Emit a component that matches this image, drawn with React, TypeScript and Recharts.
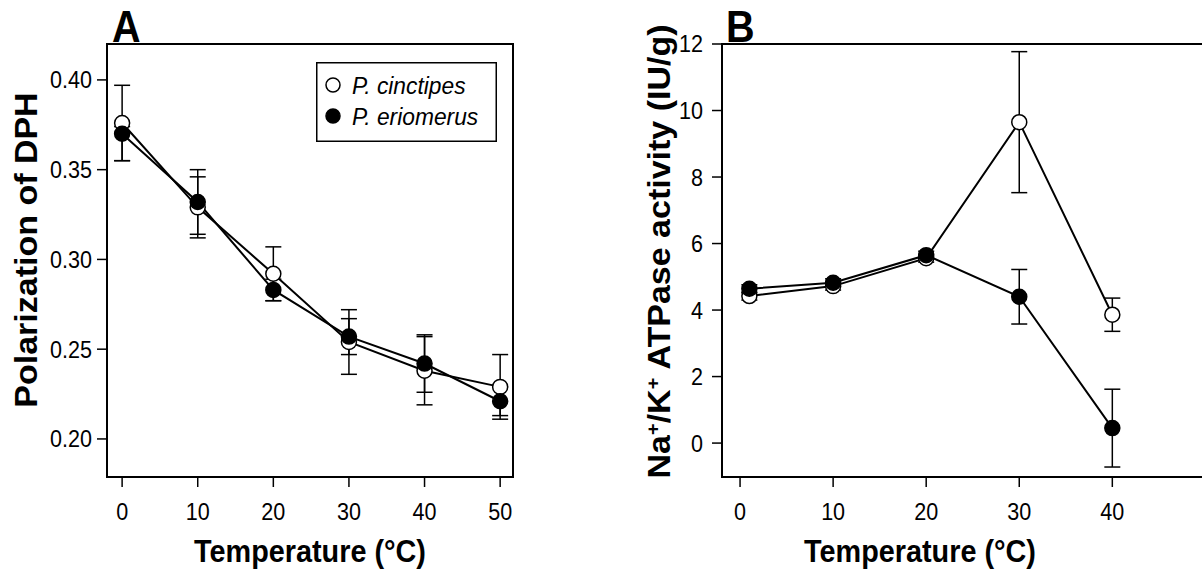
import React from "react";
import {
  LineChart,
  Line,
  XAxis,
  YAxis,
  ErrorBar,
  ReferenceArea,
  Legend,
  Label,
} from "recharts";

// Panel A: DPH polarization (errors are [below, above])
const tempA = [0, 10, 20, 30, 40, 50];
const cinctipesA = [0.376, 0.329, 0.292, 0.254, 0.238, 0.229];
const cinctipesAErr: [number, number][] = [
  [0.021, 0.021], [0.017, 0.017], [0.015, 0.015], [0.018, 0.018], [0.019, 0.019], [0.018, 0.018],
];
const eriomerusA = [0.37, 0.332, 0.283, 0.257, 0.242, 0.221];
const eriomerusAErr: [number, number][] = [
  [0.015, 0.004], [0.018, 0.018], [0.006, 0.006], [0.01, 0.01], [0.016, 0.016], [0.008, 0.008],
];
const xTicksA = [0, 10, 20, 30, 40, 50];
const yTicksA = [0.2, 0.25, 0.3, 0.35, 0.4];

// Panel B: Na+/K+ ATPase activity
const tempB = [1, 10, 20, 30, 40];
const cinctipesB = [4.42, 4.72, 5.56, 9.65, 3.86];
const cinctipesBErr: [number, number][] = [
  [0.12, 0.12], [0.12, 0.12], [0.12, 0.12], [2.12, 2.12], [0.5, 0.5],
];
const eriomerusB = [4.64, 4.82, 5.65, 4.4, 0.45];
const eriomerusBErr: [number, number][] = [
  [0.12, 0.12], [0.12, 0.12], [0.12, 0.12], [0.82, 0.82], [1.17, 1.17],
];
const xTicksB = [0, 10, 20, 30, 40];
const yTicksB = [0, 2, 4, 6, 8, 10, 12];

const xDomainA: [number, number] = [-2, 51.7];
const yDomainA: [number, number] = [0.1788, 0.42];
const xDomainB: [number, number] = [-1.94, 52];
const yDomainB: [number, number] = [-1.02, 12];

const seriesStyles = [
  { key: "cin", name: "P. cinctipes", fill: "#fff" },
  { key: "eri", name: "P. eriomerus", fill: "#000" },
];

const dataA = tempA.map((t, i) => ({
  t,
  cin: cinctipesA[i],
  cinErr: cinctipesAErr[i],
  eri: eriomerusA[i],
  eriErr: eriomerusAErr[i],
}));

const dataB = tempB.map((t, i) => ({
  t,
  cin: cinctipesB[i],
  cinErr: cinctipesBErr[i],
  eri: eriomerusB[i],
  eriErr: eriomerusBErr[i],
}));

const FONT = "'Liberation Sans', Arial, Helvetica, sans-serif";
const SQ = 0.88;

const makeXTick = (fmt: (v: number) => string) => (props: any) => {
  const { x, y, payload } = props;
  return (
    <text
      transform={`translate(${x},${y}) scale(${SQ},1)`}
      textAnchor="middle"
      dy="0.72em"
      fontSize={24.5}
      fontFamily={FONT}
      fill="#000"
    >
      {fmt(payload.value)}
    </text>
  );
};

const makeYTick = (fmt: (v: number) => string) => (props: any) => {
  const { x, y, payload } = props;
  return (
    <text
      transform={`translate(${x},${y}) scale(${SQ},1)`}
      textAnchor="end"
      dominantBaseline="central"
      fontSize={24.5}
      fontFamily={FONT}
      fill="#000"
    >
      {fmt(payload.value)}
    </text>
  );
};

const xTitle = (cx: number) => () => (
  <text
    transform={`translate(${cx},562) scale(0.9,1)`}
    textAnchor="middle"
    fontSize={32}
    fontWeight="bold"
    fontFamily={FONT}
    fill="#000"
  >
    Temperature (°C)
  </text>
);

const panelLetter = (letter: string, x: number) => () => (
  <text
    transform={`translate(${x},42) scale(0.9,1)`}
    fontSize={44}
    fontWeight="bold"
    fontFamily={FONT}
    fill="#000"
  >
    {letter}
  </text>
);

const renderLegend = (props: any) => {
  const payload = props.payload || [];
  return (
    <svg width={181} height={80} style={{ display: "block" }}>
      <rect x={0.75} y={0.75} width={179.5} height={78.5} fill="#fff" stroke="#000" strokeWidth={1.5} />
      {seriesStyles.map((s, i) => {
        const entry = payload.find((p: any) => p.value === s.name);
        const cy = i === 0 ? 23 : 54;
        return (
          <g key={s.key}>
            <circle cx={17} cy={cy} r={7} fill={s.fill} stroke="#000" strokeWidth={1.5} />
            <text
              transform={`translate(36,${cy + 8.5}) scale(0.95,1)`}
              fontSize={24}
              fontStyle="italic"
              fontFamily={FONT}
              fill="#000"
            >
              {entry ? entry.value : s.name}
            </text>
          </g>
        );
      })}
    </svg>
  );
};

const tickLine = { stroke: "#000", strokeWidth: 1.5 };

const seriesLines = (suffix: string) =>
  seriesStyles.map((s) => (
    <Line
      key={s.key + suffix}
      type="linear"
      dataKey={s.key}
      name={s.name}
      stroke="#000"
      strokeWidth={2}
      dot={{ r: 7.5, fill: s.fill, stroke: "#000", strokeWidth: 1.5 }}
      activeDot={false}
      isAnimationActive={false}
    >
      <ErrorBar
        dataKey={s.key + "Err"}
        direction="y"
        width={8}
        stroke="#000"
        strokeWidth={1.5}
        isAnimationActive={false}
      />
    </Line>
  ));

export default function App() {
  return (
    <div
      style={{
        position: "absolute",
        left: 0,
        top: 0,
        width: 1202,
        height: 569,
        overflow: "hidden",
        background: "#fff",
        fontFamily: FONT,
      }}
    >
      <div style={{ position: "absolute", left: 0, top: 0 }}>
        <LineChart
          width={530}
          height={569}
          data={dataA}
          margin={{ top: 44, right: 17, bottom: 0, left: 0 }}
        >
          <XAxis
            dataKey="t"
            type="number"
            domain={xDomainA}
            ticks={xTicksA}
            interval={0}
            allowDataOverflow
            height={92}
            tickSize={10}
            tickMargin={15}
            axisLine={false}
            tickLine={tickLine}
            tick={makeXTick((v) => String(v))}
          >
            <Label content={xTitle(310)} />
          </XAxis>
          <YAxis
            type="number"
            domain={yDomainA}
            ticks={yTicksA}
            interval={0}
            allowDataOverflow
            width={107}
            tickSize={10}
            tickMargin={5}
            axisLine={false}
            tickLine={tickLine}
            tick={makeYTick((v) => v.toFixed(2))}
          >
            <Label
              content={() => (
                <text
                  transform="translate(37,250) rotate(-90) scale(1,0.9)"
                  textAnchor="middle"
                  fontSize={34}
                  fontWeight="bold"
                  fontFamily={FONT}
                  fill="#000"
                >
                  Polarization of DPH
                </text>
              )}
            />
          </YAxis>
          <ReferenceArea
            x1={xDomainA[0]}
            x2={xDomainA[1]}
            y1={yDomainA[0]}
            y2={yDomainA[1]}
            fill="none"
            stroke="#000"
            strokeWidth={2}
          >
            <Label content={panelLetter("A", 112)} />
          </ReferenceArea>
          {seriesLines("A")}
          <Legend
            layout="vertical"
            align="center"
            verticalAlign="middle"
            content={renderLegend}
            wrapperStyle={{ left: 316, top: 62, width: 181, height: 80 }}
          />
        </LineChart>
      </div>

      <div style={{ position: "absolute", left: 600, top: 0 }}>
        <LineChart
          width={634}
          height={569}
          data={dataB}
          margin={{ top: 44, right: 10, bottom: 0, left: 0 }}
        >
          <XAxis
            dataKey="t"
            type="number"
            domain={xDomainB}
            ticks={xTicksB}
            interval={0}
            allowDataOverflow
            height={92}
            tickSize={10}
            tickMargin={15}
            axisLine={false}
            tickLine={tickLine}
            tick={makeXTick((v) => String(v))}
          >
            <Label content={xTitle(320)} />
          </XAxis>
          <YAxis
            type="number"
            domain={yDomainB}
            ticks={yTicksB}
            interval={0}
            allowDataOverflow
            width={122}
            tickSize={10}
            tickMargin={9}
            axisLine={false}
            tickLine={tickLine}
            tick={makeYTick((v) => String(v))}
          >
            <Label
              content={() => (
                <text
                  transform="translate(70,251.5) rotate(-90) scale(1,0.9)"
                  textAnchor="middle"
                  fontSize={34}
                  fontWeight="bold"
                  fontFamily={FONT}
                  fill="#000"
                >
                  Na<tspan dy={-12} fontSize={20}>+</tspan>
                  <tspan dy={12}>/K</tspan>
                  <tspan dy={-12} fontSize={20}>+</tspan>
                  <tspan dy={12}> ATPase activity (IU/g)</tspan>
                </text>
              )}
            />
          </YAxis>
          <ReferenceArea
            x1={xDomainB[0]}
            x2={xDomainB[1]}
            y1={yDomainB[0]}
            y2={yDomainB[1]}
            fill="none"
            stroke="#000"
            strokeWidth={2}
          >
            <Label content={panelLetter("B", 126)} />
          </ReferenceArea>
          {seriesLines("B")}
        </LineChart>
      </div>
    </div>
  );
}
